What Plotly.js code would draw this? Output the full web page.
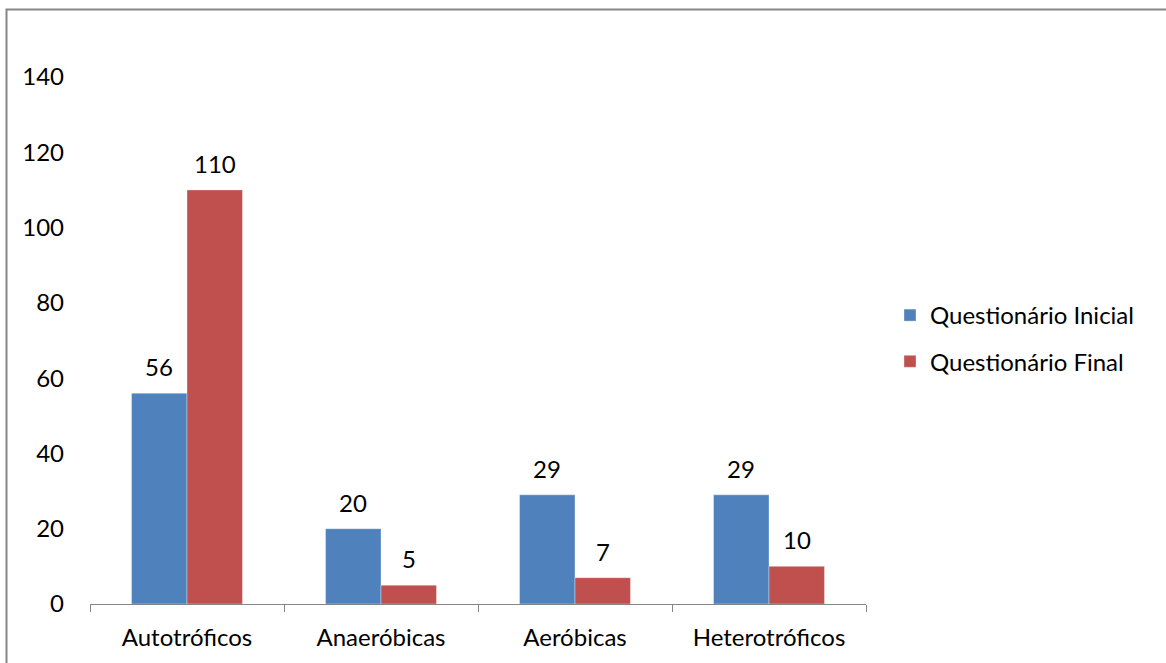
<!DOCTYPE html>
<html>
<head>
<meta charset="utf-8">
<script src="https://cdn.plot.ly/plotly-3.0.1.min.js"></script>
<style>
  html, body { margin: 0; padding: 0; background: #fff; }
  #chart { width: 1166px; height: 663px; }
</style>
</head>
<body>
<div id="chart"></div>
<script>
// Categories and series values
const categories = ['Autotróficos', 'Anaeróbicas', 'Aeróbicas', 'Heterotróficos'];
const seriesNames = ['Questionário Inicial', 'Questionário Final'];
const inicialValues = [56, 20, 29, 29];
const finalValues = [110, 5, 7, 10];
const yTickValues = [0, 20, 40, 60, 80, 100, 120, 140];

const FONT = 'Lato, "Open Sans", sans-serif';
const FS = 24;
const BLUE = '#4F81BD';
const RED = '#C0504D';

// Plot area geometry (pixels)
const W = 1166, H = 663;
const M = { l: 90, r: 300, t: 77, b: 59 };
const plotW = W - M.l - M.r;
const plotH = H - M.t - M.b;
const BARGAP = 0.428;
const catPx = plotW / categories.length;
const barPx = catPx * (1 - BARGAP) / 2;

const traces = [
  {
    type: 'bar', name: seriesNames[0], x: categories, y: inicialValues,
    marker: { color: BLUE, line: { color: 'rgba(255,255,255,0.35)', width: 1 } },
    legendgroup: 'a', hoverinfo: 'skip'
  },
  {
    type: 'bar', name: seriesNames[1], x: categories, y: finalValues,
    marker: { color: RED, line: { color: 'rgba(255,255,255,0.35)', width: 1 } },
    legendgroup: 'b', hoverinfo: 'skip'
  }
];

// Value labels above each bar, taken from the same arrays
const annotations = [];
[inicialValues, finalValues].forEach((vals, s) => {
  vals.forEach((v, i) => {
    annotations.push({
      x: categories[i], y: v, xref: 'x', yref: 'y',
      text: String(v), showarrow: false,
      xshift: (s === 0 ? -1 : 1) * barPx / 2,
      yanchor: 'bottom', yshift: 10,
      font: { family: FONT, size: FS, color: '#000' }
    });
  });
});

// Chart frame line
const shapes = [{
  type: 'rect', xref: 'paper', yref: 'paper',
  x0: (6.5 - M.l) / plotW, x1: 3,
  y0: -2, y1: (H - M.b - 9.5) / plotH,
  line: { color: '#868686', width: 2 }, fillcolor: 'rgba(0,0,0,0)', layer: 'below'
}];

const layout = {
  width: W, height: H,
  margin: M,
  paper_bgcolor: '#fff', plot_bgcolor: '#fff',
  font: { family: FONT, size: FS, color: '#000' },
  barmode: 'group', bargap: BARGAP, bargroupgap: 0,
  showlegend: true,
  legend: {
    xref: 'container', yref: 'container',
    x: 890 / W, y: 1 - 293 / H, xanchor: 'left', yanchor: 'top',
    traceorder: 'grouped', tracegroupgap: 12,
    font: { family: FONT, size: FS, color: '#000' },
    bgcolor: 'rgba(0,0,0,0)', itemwidth: 30
  },
  xaxis: {
    type: 'category', range: [-0.5, categories.length - 0.5],
    showline: true, linecolor: '#868686', linewidth: 1,
    ticks: 'outside', tickson: 'boundaries', ticklen: 7, tickcolor: '#868686', tickwidth: 1,
    showgrid: false, zeroline: false, fixedrange: true,
    ticklabelstandoff: 12,
    tickfont: { family: FONT, size: FS, color: '#000' }
  },
  yaxis: {
    range: [0, 140], tickvals: yTickValues, ticktext: yTickValues.map(String),
    showline: false, showgrid: false, zeroline: false, ticks: '',
    ticklabelstandoff: 25, fixedrange: true,
    tickfont: { family: FONT, size: FS, color: '#000' }
  },
  annotations: annotations,
  shapes: shapes
};

Plotly.newPlot('chart', traces, layout, { staticPlot: true, displayModeBar: false });
</script>
</body>
</html>
